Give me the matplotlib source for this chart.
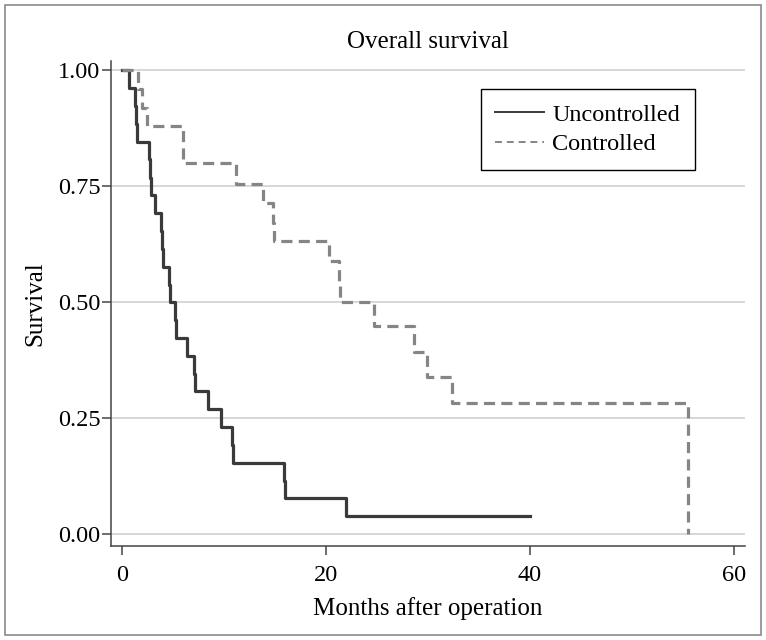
import matplotlib
matplotlib.use("Agg")
import matplotlib.pyplot as plt
from matplotlib.patches import Rectangle

# step times (months) and survival after each step
unc_times = [0, 0.7, 1.3, 1.4, 1.5, 2.6, 2.7, 2.8, 3.2, 3.85, 3.9, 4.0, 4.6, 4.7,
             5.2, 5.3, 6.4, 7.1, 7.2, 8.4, 9.7, 10.8, 10.9, 15.9, 16.0, 22.0, 40.0]
unc_surv = [1.0, 0.962, 0.923, 0.885, 0.846, 0.808, 0.769, 0.731, 0.692, 0.654, 0.615,
            0.577, 0.538, 0.5, 0.462, 0.423, 0.385, 0.346, 0.308, 0.269, 0.231,
            0.192, 0.154, 0.115, 0.077, 0.038, 0.038]

ctl_times = [0, 1.6, 2.0, 2.5, 6.0, 11.2, 13.8, 14.8, 14.9, 20.3, 21.3, 21.4,
             24.7, 28.6, 29.9, 32.4, 55.5]
ctl_surv = [1.0, 0.96, 0.92, 0.88, 0.80, 0.755, 0.715, 0.672, 0.632, 0.589, 0.545,
            0.50, 0.449, 0.392, 0.339, 0.282, 0.0]

x_ticks = [0, 20, 40, 60]
y_ticks = [0.0, 0.25, 0.5, 0.75, 1.0]
y_labels = ["0.00", "0.25", "0.50", "0.75", "1.00"]

plt.rcParams["font.family"] = ["Liberation Serif", "DejaVu Serif"]
plt.rcParams["lines.scale_dashes"] = False

fig = plt.figure(figsize=(7.66, 6.4), dpi=100)
ax = fig.add_axes([0.1445, 0.1469, 0.828, 0.7578])

# grey frame around the whole picture
fig.patches.append(Rectangle((0.007, 0.008), 0.986, 0.984, transform=fig.transFigure,
                             fill=False, edgecolor="#8a8a8a", linewidth=1.2))

ax.step(unc_times, unc_surv, where="post", color="#3a3a3a", lw=2.3,
        label="Uncontrolled", zorder=3)
ax.step(ctl_times, ctl_surv, where="post", color="#858585", lw=2.3,
        dashes=(8, 4.5), label="Controlled", zorder=3)

ax.set_xlim(-1.11, 61.1)
ax.set_ylim(-0.0259, 1.0205)
ax.set_xticks(x_ticks)
ax.set_yticks(y_ticks, labels=y_labels)
ax.yaxis.grid(True, color="#d4d4d4", lw=1.3)
ax.set_axisbelow(True)

for s in ["top", "right"]:
    ax.spines[s].set_visible(False)
for s in ["left", "bottom"]:
    ax.spines[s].set_color("#444444")
    ax.spines[s].set_linewidth(1.1)
ax.tick_params(direction="out", length=6.5, width=1.1, color="#444444",
               labelsize=17.5)
ax.tick_params(axis="x", pad=7)
ax.tick_params(axis="y", pad=1)

ax.set_title("Overall survival", fontsize=18, pad=9)
ax.set_xlabel("Months after operation", fontsize=18, labelpad=8)
ax.set_ylabel("Survival", fontsize=18, labelpad=8)

leg = ax.legend(loc="upper right", bbox_to_anchor=(0.921, 0.942), fontsize=17.5,
                fancybox=False, edgecolor="black", framealpha=1, handlelength=2.0,
                handletextpad=0.35, borderpad=0.6, labelspacing=0.3,
                borderaxespad=0)
leg.get_frame().set_linewidth(1.0)
for ln in leg.get_lines():
    ln.set_linewidth(1.4)
leg.get_lines()[1].set_dashes((5, 3.5))

fig.savefig("out.png", dpi=100)
